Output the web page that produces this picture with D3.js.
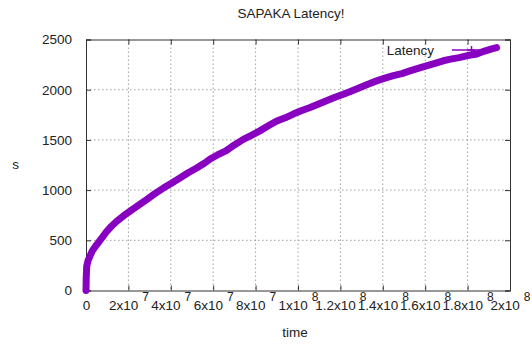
<!DOCTYPE html>
<html>
<head>
<meta charset="utf-8">
<script src="https://cdn.jsdelivr.net/npm/d3@7"></script>
<style>
  body { margin: 0; background: #fff; }
  svg { display: block; font-family: "Liberation Sans", Arial, sans-serif; }
</style>
</head>
<body>
<div id="chart"></div>
<script>
// values (time in raw units, latency in s)
const times = [0, 1e5, 3.3e5, 1.0e6, 1.9e6, 3.0e6, 5.0e6, 7.5e6, 9.8e6, 1.2e7, 1.45e7, 1.75e7,
    2.08e7, 2.45e7, 2.86e7, 3.25e7, 3.65e7, 4.05e7, 4.43e7, 4.8e7, 5.22e7, 5.6e7, 5.9e7, 6.2e7,
    6.6e7, 7.0e7, 7.42e7, 7.8e7, 8.2e7, 8.6e7, 9.0e7, 9.4e7, 9.8e7, 1.015e8, 1.057e8, 1.1e8,
    1.14e8, 1.175e8, 1.214e8, 1.25e8, 1.29e8, 1.33e8, 1.371e8, 1.41e8, 1.45e8, 1.49e8, 1.528e8,
    1.57e8, 1.61e8, 1.65e8, 1.685e8, 1.72e8, 1.76e8, 1.80e8, 1.843e8, 1.88e8, 1.91e8, 1.937e8];
const latency = [0, 120, 240, 300, 345, 395, 455, 525, 590, 640, 690, 740,
    790, 845, 905, 965, 1020, 1070, 1120, 1170, 1220, 1270, 1315, 1350,
    1390, 1450, 1505, 1545, 1590, 1640, 1688, 1720, 1760, 1790, 1822, 1860,
    1895, 1925, 1955, 1985, 2020, 2055, 2088, 2115, 2140, 2160, 2188,
    2215, 2240, 2265, 2288, 2305, 2320, 2340, 2355, 2385, 2405, 2420];
const yTicks = [0, 500, 1000, 1500, 2000, 2500];
const xTicks = [0, 2e7, 4e7, 6e7, 8e7, 1e8, 1.2e8, 1.4e8, 1.6e8, 1.8e8, 2e8];
const seriesName = "Latency";

const W = 532, H = 344;
const margin = {top: 39.5, right: 22, bottom: 53.5, left: 86};
const width = W - margin.left - margin.right,
    height = H - margin.top - margin.bottom;
const purple = "#8800c0";
const textColor = "#222";

const svg = d3.select("#chart").append("svg")
    .attr("width", W)
    .attr("height", H);

const g = svg.append("g")
    .attr("transform", `translate(${margin.left},${margin.top})`);

const x = d3.scaleLinear().domain([0, 2e8]).range([0, width]);
const y = d3.scaleLinear().domain([0, 2500]).range([height, 0]);

// grid
g.append("g").selectAll("line.gx")
    .data(xTicks.slice(1, -1))
    .join("line")
    .attr("x1", d => x(d)).attr("x2", d => x(d))
    .attr("y1", 0).attr("y2", height)
    .attr("stroke", "#a0a0a0").attr("stroke-dasharray", "1.5,2.5");
g.append("g").selectAll("line.gy")
    .data(yTicks.slice(1, -1))
    .join("line")
    .attr("x1", 0).attr("x2", width)
    .attr("y1", d => y(d)).attr("y2", d => y(d))
    .attr("stroke", "#a0a0a0").attr("stroke-dasharray", "1.5,2.5");

// axes (inward ticks on all sides)
const yAxis = g.append("g")
    .call(d3.axisLeft(y).tickValues(yTicks).tickSize(-5).tickPadding(14).tickFormat(d3.format("d")));
g.append("g").attr("transform", `translate(${width},0)`)
    .call(d3.axisRight(y).tickValues(yTicks).tickSize(-5).tickFormat(""));
const xAxis = g.append("g").attr("transform", `translate(0,${height})`)
    .call(d3.axisBottom(x).tickValues(xTicks).tickSize(-5).tickPadding(10));
g.append("g")
    .call(d3.axisTop(x).tickValues(xTicks).tickSize(-5).tickFormat(""));

g.selectAll(".domain").attr("stroke", "#333");
g.selectAll(".tick line").attr("stroke", "#333");

yAxis.selectAll("text")
    .attr("font-size", 13.5).attr("fill", textColor)
    .attr("font-family", "Liberation Sans, Arial, sans-serif");

// x labels as  m x 10^e
xAxis.selectAll(".tick text").each(function(d) {
    const t = d3.select(this).text("")
        .attr("font-size", 13.5).attr("fill", textColor)
        .attr("font-family", "Liberation Sans, Arial, sans-serif")
        .attr("dy", "0.71em");
    if (d === 0) { t.text("0"); return; }
    const e = Math.floor(Math.log10(d));
    const m = +(d / Math.pow(10, e)).toFixed(1);
    t.append("tspan").text(m + "x10");
    t.append("tspan").attr("dx", 4).attr("dy", -9).attr("font-size", 12).text(e);
});

// series
const pts = times.map((t, i) => [t, latency[i]]);
g.append("path")
    .datum(pts)
    .attr("fill", "none")
    .attr("stroke", purple)
    .attr("stroke-width", 7)
    .attr("stroke-linejoin", "round")
    .attr("stroke-linecap", "round")
    .attr("d", d3.line().x(d => x(d[0])).y(d => y(d[1])));

// legend
const key = svg.append("g");
key.append("text")
    .attr("x", 434).attr("y", 55)
    .attr("text-anchor", "end")
    .attr("font-size", 13.5).attr("fill", textColor)
    .text(seriesName);
key.append("line")
    .attr("x1", 452).attr("x2", 490).attr("y1", 50).attr("y2", 50)
    .attr("stroke", purple).attr("stroke-width", 1.5);
key.append("path")
    .attr("d", "M467.5,50H475.5M471.5,46V54")
    .attr("stroke", purple).attr("stroke-width", 1.5);

// titles
svg.append("text")
    .attr("x", 291).attr("y", 18)
    .attr("text-anchor", "middle")
    .attr("font-size", 13.5).attr("fill", textColor)
    .text("SAPAKA Latency!");
svg.append("text")
    .attr("x", 295).attr("y", 337)
    .attr("text-anchor", "middle")
    .attr("font-size", 13.5).attr("fill", textColor)
    .text("time");
svg.append("text")
    .attr("x", 15.5).attr("y", 169)
    .attr("text-anchor", "middle")
    .attr("font-size", 13.5).attr("fill", textColor)
    .text("s");
</script>
</body>
</html>
